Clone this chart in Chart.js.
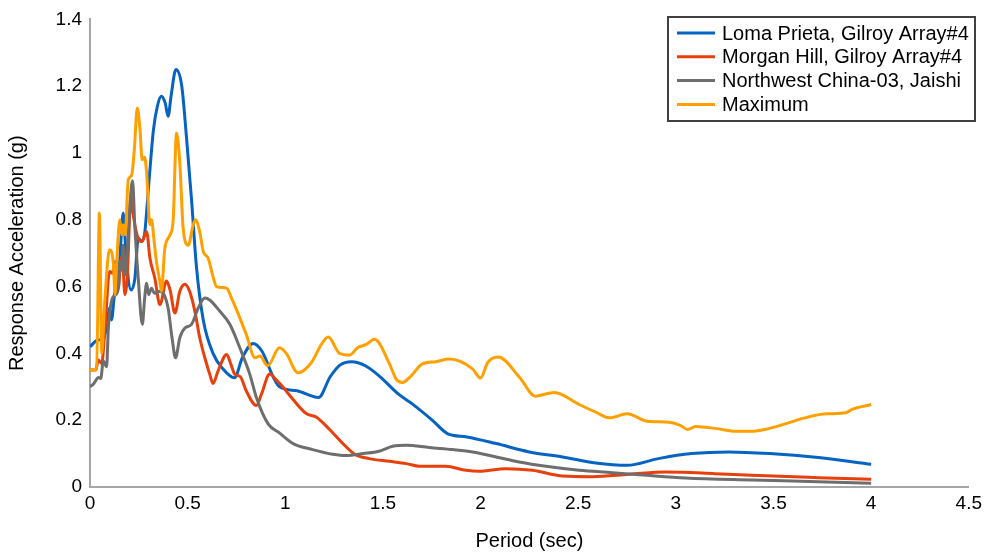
<!DOCTYPE html>
<html>
<head>
<meta charset="utf-8">
<script src="https://cdn.jsdelivr.net/npm/chart.js@4.4.0/dist/chart.umd.min.js"></script>
<style>
  html, body { margin: 0; padding: 0; background: #fff; }
  #wrap { width: 987px; height: 553px; }
</style>
</head>
<body>
<div id="wrap"><canvas id="chart" width="987" height="553"></canvas></div>
<script>
// series labels
const seriesNames = ['Loma Prieta, Gilroy Array#4', 'Morgan Hill, Gilroy Array#4', 'Northwest China-03, Jaishi', 'Maximum'];

// Loma Prieta (blue)
const lomaPeriod = [0, 0.04, 0.07, 0.085, 0.10, 0.11, 0.125, 0.15, 0.17, 0.185, 0.21, 0.23, 0.247, 0.265, 0.28, 0.30, 0.325, 0.345, 0.365, 0.385, 0.40, 0.415, 0.44, 0.47, 0.495, 0.52, 0.545, 0.58, 0.63, 0.68, 0.74, 0.78, 0.835, 0.88, 0.94, 0.97, 1.06, 1.17, 1.23, 1.28, 1.34, 1.41, 1.48, 1.58, 1.65, 1.755, 1.83, 1.93, 2.08, 2.25, 2.42, 2.59, 2.75, 2.91, 3.08, 3.27, 3.48, 3.73, 4.0];
const lomaAccel = [0.42, 0.44, 0.445, 0.48, 0.535, 0.50, 0.575, 0.66, 0.82, 0.69, 0.59, 0.625, 0.745, 0.735, 0.76, 0.90, 1.07, 1.14, 1.17, 1.15, 1.11, 1.17, 1.25, 1.20, 1.04, 0.86, 0.66, 0.50, 0.40, 0.354, 0.327, 0.387, 0.43, 0.407, 0.327, 0.30, 0.288, 0.268, 0.33, 0.365, 0.375, 0.363, 0.333, 0.278, 0.249, 0.199, 0.16, 0.15, 0.13, 0.105, 0.09, 0.072, 0.065, 0.085, 0.10, 0.105, 0.10, 0.088, 0.068];

// Morgan Hill (red)
const morganPeriod = [0, 0.03, 0.042, 0.06, 0.077, 0.10, 0.115, 0.128, 0.145, 0.157, 0.165, 0.179, 0.19, 0.21, 0.22, 0.247, 0.265, 0.29, 0.307, 0.332, 0.358, 0.392, 0.41, 0.435, 0.46, 0.486, 0.51, 0.537, 0.562, 0.588, 0.613, 0.63, 0.656, 0.70, 0.72, 0.741, 0.77, 0.80, 0.852, 0.878, 0.92, 0.955, 0.99, 1.04, 1.107, 1.16, 1.227, 1.295, 1.355, 1.43, 1.534, 1.62, 1.687, 1.82, 1.926, 1.99, 2.13, 2.266, 2.42, 2.573, 2.76, 2.95, 3.2, 3.39, 3.73, 4.0];
const morganAccel = [0.35, 0.35, 0.38, 0.37, 0.476, 0.645, 0.64, 0.675, 0.595, 0.675, 0.69, 0.576, 0.62, 0.87, 0.82, 0.744, 0.735, 0.764, 0.685, 0.625, 0.546, 0.617, 0.59, 0.521, 0.586, 0.607, 0.586, 0.526, 0.447, 0.387, 0.338, 0.31, 0.348, 0.397, 0.37, 0.338, 0.33, 0.288, 0.244, 0.278, 0.338, 0.32, 0.298, 0.262, 0.22, 0.209, 0.172, 0.13, 0.098, 0.085, 0.077, 0.07, 0.062, 0.062, 0.05, 0.047, 0.055, 0.05, 0.033, 0.031, 0.038, 0.045, 0.04, 0.035, 0.028, 0.023];

// Northwest China-03 (gray)
const chinaPeriod = [0, 0.02, 0.043, 0.055, 0.068, 0.085, 0.094, 0.11, 0.13, 0.145, 0.153, 0.162, 0.17, 0.179, 0.19, 0.205, 0.218, 0.23, 0.247, 0.268, 0.28, 0.29, 0.30, 0.315, 0.33, 0.358, 0.38, 0.40, 0.42, 0.438, 0.46, 0.486, 0.52, 0.554, 0.588, 0.613, 0.665, 0.716, 0.767, 0.818, 0.852, 0.912, 0.97, 1.04, 1.14, 1.244, 1.31, 1.40, 1.48, 1.55, 1.62, 1.738, 1.857, 1.96, 2.08, 2.198, 2.335, 2.505, 2.675, 2.85, 3.05, 3.39, 3.73, 4.0];
const chinaAccel = [0.30, 0.31, 0.328, 0.325, 0.377, 0.36, 0.476, 0.556, 0.575, 0.595, 0.675, 0.65, 0.724, 0.635, 0.70, 0.85, 0.917, 0.774, 0.625, 0.487, 0.566, 0.61, 0.576, 0.595, 0.58, 0.586, 0.575, 0.536, 0.447, 0.387, 0.447, 0.476, 0.487, 0.536, 0.566, 0.56, 0.526, 0.487, 0.417, 0.338, 0.268, 0.189, 0.162, 0.13, 0.112, 0.098, 0.094, 0.10, 0.107, 0.122, 0.125, 0.118, 0.112, 0.105, 0.09, 0.075, 0.062, 0.05, 0.043, 0.035, 0.027, 0.021, 0.016, 0.011];

// Maximum (orange)
const maxPeriod = [0, 0.034, 0.048, 0.06, 0.075, 0.10, 0.12, 0.128, 0.136, 0.153, 0.162, 0.17, 0.18, 0.196, 0.213, 0.227, 0.242, 0.256, 0.267, 0.28, 0.29, 0.307, 0.315, 0.327, 0.34, 0.358, 0.366, 0.383, 0.41, 0.426, 0.443, 0.46, 0.477, 0.503, 0.528, 0.54, 0.562, 0.58, 0.605, 0.63, 0.648, 0.70, 0.724, 0.75, 0.80, 0.845, 0.87, 0.91, 0.97, 1.005, 1.065, 1.133, 1.185, 1.22, 1.278, 1.33, 1.37, 1.415, 1.457, 1.534, 1.568, 1.60, 1.645, 1.70, 1.77, 1.84, 1.96, 2.00, 2.036, 2.09, 2.20, 2.28, 2.377, 2.505, 2.59, 2.66, 2.75, 2.855, 2.965, 3.025, 3.06, 3.10, 3.22, 3.306, 3.39, 3.46, 3.56, 3.66, 3.77, 3.87, 3.90, 4.0];
const maxAccel = [0.35, 0.353, 0.82, 0.40, 0.55, 0.71, 0.665, 0.576, 0.665, 0.80, 0.755, 0.785, 0.755, 0.92, 0.933, 1.01, 1.135, 1.07, 0.98, 0.987, 0.94, 0.785, 0.80, 0.744, 0.675, 0.615, 0.586, 0.714, 0.755, 0.80, 1.06, 0.97, 0.775, 0.724, 0.784, 0.80, 0.764, 0.705, 0.685, 0.63, 0.60, 0.595, 0.566, 0.531, 0.457, 0.387, 0.392, 0.363, 0.417, 0.40, 0.342, 0.372, 0.427, 0.449, 0.40, 0.395, 0.417, 0.427, 0.442, 0.368, 0.323, 0.313, 0.333, 0.368, 0.375, 0.383, 0.353, 0.326, 0.372, 0.389, 0.328, 0.272, 0.283, 0.247, 0.224, 0.207, 0.219, 0.197, 0.194, 0.184, 0.172, 0.181, 0.174, 0.167, 0.167, 0.173, 0.189, 0.207, 0.219, 0.222, 0.232, 0.247];

const colors = ['#0563C1', '#E8400C', '#6E6E6E', '#FFA000'];
const fontFamily = 'Arial, "Liberation Sans", sans-serif';

function toPoints(xs, ys) {
    return xs.map((x, i) => ({ x: x, y: ys[i] }));
}

// 1.0 -> "1", 0.5 -> "0.5" like the original axes
function tickText(value) {
    return String(Math.round(value * 10) / 10);
}

const seriesData = [
    toPoints(lomaPeriod, lomaAccel),
    toPoints(morganPeriod, morganAccel),
    toPoints(chinaPeriod, chinaAccel),
    toPoints(maxPeriod, maxAccel)
];

// legend box drawn inside the plot, like the original
const boxLegend = {
    id: 'boxLegend',
    afterDraw(chart) {
        const ctx = chart.ctx;
        const left = 668, top = 17, w = 307, h = 104;
        ctx.save();
        ctx.fillStyle = '#fff';
        ctx.fillRect(left, top, w, h);
        ctx.lineWidth = 2;
        ctx.strokeStyle = '#404040';
        ctx.strokeRect(left, top, w, h);
        ctx.font = '20px ' + fontFamily;
        ctx.textBaseline = 'middle';
        ctx.fillStyle = '#000';
        chart.data.datasets.forEach((ds, i) => {
            const y = 33 + i * 23.8;
            ctx.strokeStyle = ds.borderColor;
            ctx.lineWidth = 3;
            ctx.beginPath();
            ctx.moveTo(677, y);
            ctx.lineTo(715, y);
            ctx.stroke();
            ctx.fillText(ds.label, 722, y + 1);
        });
        ctx.restore();
    }
};

const ctx = document.getElementById('chart').getContext('2d');
new Chart(ctx, {
    type: 'line',
    data: {
        datasets: seriesNames.map((name, i) => ({
            label: name,
            data: seriesData[i],
            borderColor: colors[i],
            backgroundColor: colors[i],
            borderWidth: 3,
            pointRadius: 0,
            cubicInterpolationMode: 'monotone',
            order: 4 - i
        }))
    },
    options: {
        responsive: false,
        animation: false,
        layout: { padding: { top: 16, right: 17, left: 0, bottom: 0 } },
        plugins: {
            legend: { display: false },
            tooltip: { enabled: false }
        },
        scales: {
            x: {
                type: 'linear',
                min: 0,
                max: 4.5,
                grid: { display: false, drawTicks: false },
                border: { color: '#a6a6a6', width: 2 },
                ticks: {
                    stepSize: 0.5,
                    padding: 5,
                    color: '#000',
                    font: { family: fontFamily, size: 19 },
                    callback: tickText
                },
                title: {
                    display: true,
                    text: 'Period (sec)',
                    color: '#000',
                    padding: { top: 0, bottom: 0 },
                    font: { family: fontFamily, size: 20, lineHeight: 1.2 }
                },
                afterFit: (scale) => { scale.height = 66; }
            },
            y: {
                min: 0,
                max: 1.4,
                grid: { display: false, drawTicks: false },
                border: { color: '#a6a6a6', width: 2 },
                ticks: {
                    stepSize: 0.2,
                    padding: 8,
                    color: '#000',
                    font: { family: fontFamily, size: 19 },
                    callback: tickText
                },
                title: {
                    display: true,
                    text: 'Response Acceleration (g)',
                    color: '#000',
                    padding: { top: 5, bottom: 0 },
                    font: { family: fontFamily, size: 20, lineHeight: 1.2 }
                },
                afterFit: (scale) => { scale.width = 90; }
            }
        }
    },
    plugins: [boxLegend]
});
</script>
</body>
</html>
